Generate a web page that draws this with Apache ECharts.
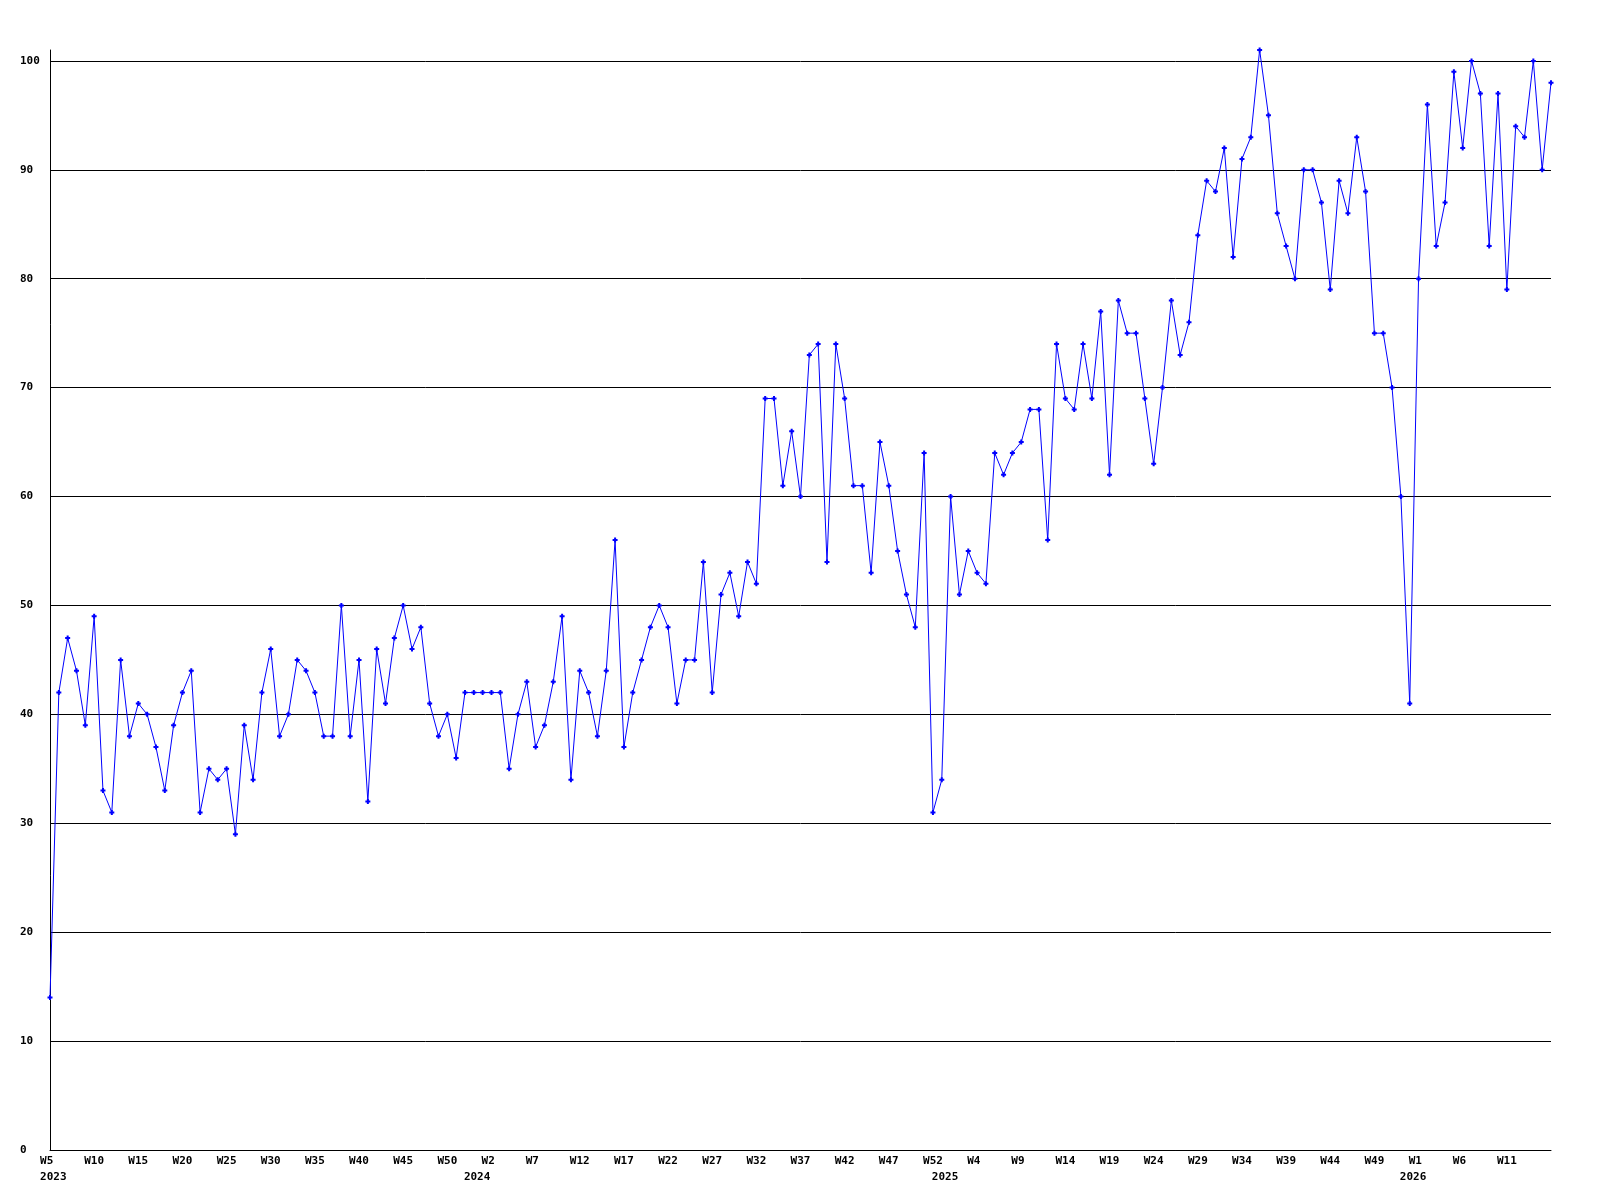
<!DOCTYPE html>
<html>
<head>
<meta charset="utf-8">
<title>Weekly chart</title>
<script src="https://cdn.jsdelivr.net/npm/echarts@6/dist/echarts.min.js"></script>
<style>
  html, body { margin: 0; padding: 0; background: #fff; }
</style>
</head>
<body>
<div id="weekChart" style="width: 1600px; height: 1200px"></div>
<script>
// week ranges per year: [year, first week, last week]
const weekRanges = [
  [2023, 5, 52],
  [2024, 0, 52],
  [2025, 0, 52],
  [2026, 0, 16]
]

// one value per week, W5 2023 .. W16 2026
const weekValues = [
  14, 42, 47, 44, 39, 49, 33, 31, 45, 38, 41, 40, 37, 33, 39, 42, 44, 31, 35, 34,
  35, 29, 39, 34, 42, 46, 38, 40, 45, 44, 42,
  38, 38, 50, 38, 45, 32, 46, 41, 47, 50, 46, 48, 41, 38, 40, 36, 42, 42, 42, 42,
  42, 35, 40, 43, 37, 39, 43, 49, 34, 44,
  42, 38, 44, 56, 37, 42, 45, 48, 50, 48, 41, 45, 45, 54, 42, 51, 53, 49, 54, 52,
  69, 69, 61, 66, 60, 73, 74, 54,
  74, 69, 61, 61, 53, 65, 61, 55, 51, 48, 64, 31, 34, 60, 51, 55, 53, 52, 64, 62,
  64, 65, 68, 68, 56, 74, 69, 68, 74, 69,
  77, 62, 78, 75, 75, 69, 63, 70, 78, 73, 76,
  84, 89, 88, 92, 82, 91, 93, 101, 95, 86, 83, 80,
  90, 90, 87, 79, 89, 86, 93, 88, 75, 75, 70, 60, 41, 80, 96, 83, 87, 99, 92, 100,
  97, 83, 97, 79, 94, 93, 100, 90, 98
]

const yTicks = { min: 0, max: 101, step: 10 }

// build categories and year positions
const weeks = []
const yearStart = {}
weekRanges.forEach(([year, from, to]) => {
  yearStart[weeks.length] = String(year)
  for (let w = from; w <= to; w++) weeks.push('W' + w)
})

const labelFont = {
  fontFamily: 'DejaVu Sans Mono',
  fontWeight: 'bold',
  fontSize: 11,
  color: '#000'
}

const chart = echarts.init(document.getElementById('weekChart'))

chart.setOption({
  animation: false,
  tooltip: { trigger: 'axis' },
  grid: { left: 50, right: 49, top: 50, bottom: 50 },
  xAxis: [
    {
      type: 'category',
      data: weeks,
      boundaryGap: false,
      axisLine: { show: true, lineStyle: { color: '#000', width: 1 } },
      axisTick: { show: false },
      splitLine: { show: false },
      axisLabel: {
        ...labelFont,
        margin: 6,
        interval: (i) => i % 5 === 0 && i < weeks.length - 1,
        // pad to 3 chars so labels start just left of the point
        formatter: (v) => v.padEnd(3, ' ')
      }
    },
    {
      type: 'category',
      data: weeks,
      boundaryGap: false,
      position: 'bottom',
      offset: 16,
      axisLine: { show: false },
      axisTick: { show: false },
      splitLine: { show: false },
      axisLabel: {
        ...labelFont,
        margin: 6,
        interval: (i) => yearStart[i] !== undefined,
        formatter: (v, i) => ' ' + (yearStart[i] || '')
      }
    }
  ],
  yAxis: {
    type: 'value',
    min: yTicks.min,
    max: yTicks.max,
    interval: yTicks.step,
    axisLine: { show: true, lineStyle: { color: '#000', width: 1 } },
    axisTick: { show: false },
    splitLine: { show: true, showMaxLine: false, lineStyle: { color: '#000', width: 1 } },
    axisLabel: {
      ...labelFont,
      align: 'left',
      margin: 30,
      showMaxLabel: false
    }
  },
  series: [
    {
      type: 'line',
      data: weekValues,
      xAxisIndex: 0,
      symbol: 'path://M1.5 0h2v1.5h1.5v2h-1.5v1.5h-2v-1.5h-1.5v-2h1.5z',
      symbolSize: 5,
      showAllSymbol: true,
      itemStyle: { color: '#0000ff' },
      lineStyle: { color: '#0000ff', width: 1 }
    }
  ]
})
</script>
</body>
</html>
